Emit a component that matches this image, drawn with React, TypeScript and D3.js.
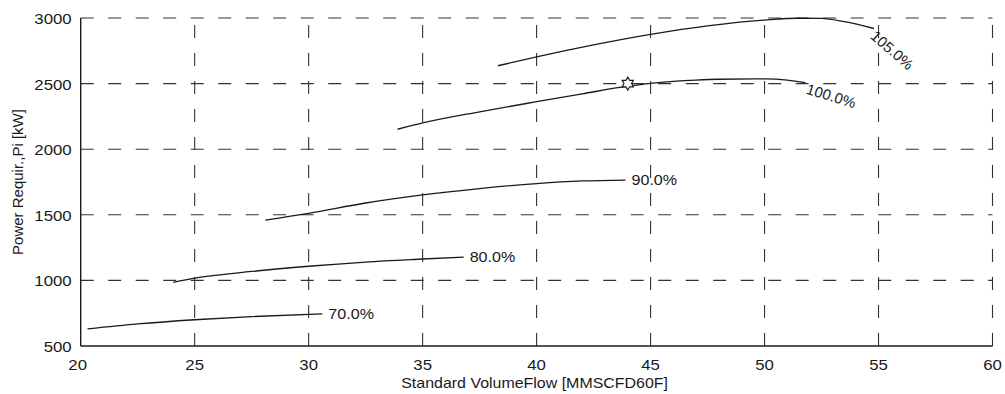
import React from "react";
import * as d3 from "d3";

const W = 1005;
const H = 394;
const M = { left: 80.7, right: 12.5, top: 18, bottom: 48 };

const xTicks = [20, 25, 30, 35, 40, 45, 50, 55, 60];
const yTicks = [500, 1000, 1500, 2000, 2500, 3000];

const flow70 = [20.3, 22.5, 25, 27.5, 30.6];
const power70 = [630, 668, 700, 724, 745];
const flow80 = [24.06, 25, 27.5, 30, 32.5, 35, 36.8];
const power80 = [985, 1017, 1068, 1108, 1140, 1163, 1178];
const flow90 = [28.1, 30, 32.5, 35, 37.5, 40, 42, 43.9];
const power90 = [1460, 1511, 1590, 1652, 1700, 1738, 1758, 1765];
const flow100 = [33.9, 35, 37.5, 40, 42, 44, 45, 46, 47, 48, 50, 51, 51.8];
const power100 = [2152, 2200, 2285, 2362, 2422, 2480, 2502, 2517, 2527, 2533, 2536, 2527, 2507];
const flow105 = [38.3, 40, 42.5, 45, 47.5, 50, 51.5, 52.5, 53.5, 54.8];
const power105 = [2636, 2704, 2795, 2875, 2940, 2984, 2998, 2997, 2972, 2920];

const seriesLabels = ["70.0%", "80.0%", "90.0%", "100.0%", "105.0%"];
const labelAngles = [0, 0, 0, 17, 41];

const designFlow = [44];
const designPower = [2500];

const xTitle = "Standard VolumeFlow [MMSCFD60F]";
const yTitle = "Power Requir.,Pi [kW]";

const FONT = "'Liberation Sans', Arial, Helvetica, sans-serif";
const INK = "#1a1a1a";

function hexagram(cx: number, cy: number, R: number) {
  const r = R / Math.sqrt(3);
  const pts: string[] = [];
  for (let i = 0; i < 12; i++) {
    const a = -Math.PI / 2 + (i * Math.PI) / 6;
    const rad = i % 2 === 0 ? R : r;
    pts.push(`${cx + rad * Math.cos(a)},${cy + rad * Math.sin(a)}`);
  }
  return `M${pts.join("L")}Z`;
}

export default function App() {
  const x = d3.scaleLinear().domain([20, 60]).range([M.left, W - M.right]);
  const y = d3.scaleLinear().domain([500, 3000]).range([H - M.bottom, M.top]);

  const series = [
    [flow70, power70],
    [flow80, power80],
    [flow90, power90],
    [flow100, power100],
    [flow105, power105],
  ].map(([fx, py]) => fx.map((v, i) => [v, py[i]] as [number, number]));

  const line = d3
    .line<[number, number]>()
    .x((d) => x(d[0]))
    .y((d) => y(d[1]))
    .curve(d3.curveMonotoneX);

  const x0 = x(20);
  const x1 = x(60);
  const y0 = y(500);
  const y1 = y(3000);

  return (
    <div style={{ position: "absolute", left: 0, top: 0, background: "#fff" }}>
      <svg width={W} height={H} style={{ display: "block" }} fontFamily={FONT}>
        <rect x={0} y={0} width={W} height={H} fill="#fff" />
        {yTicks.slice(1).map((t) => (
          <line
            key={"hg" + t}
            x1={x0}
            x2={x1}
            y1={y(t)}
            y2={y(t)}
            stroke="#333"
            strokeWidth={1.1}
            strokeDasharray="13,14.5"
          />
        ))}
        {xTicks.slice(1).map((t) => (
          <line
            key={"vg" + t}
            x1={x(t)}
            x2={x(t)}
            y1={y0}
            y2={y1}
            stroke="#333"
            strokeWidth={1.1}
            strokeDasharray="13,15"
          />
        ))}
        <line x1={x0} x2={x0} y1={y1} y2={y0} stroke={INK} strokeWidth={1.4} />
        <line x1={x0} x2={x1} y1={y0} y2={y0} stroke={INK} strokeWidth={1.4} />

        {yTicks.map((t) => (
          <text
            key={"yt" + t}
            transform={`translate(${x0 - 9},${y(t) + 6}) scale(1.2,1)`}
            textAnchor="end"
            fontSize={14}
            fill={INK}
          >
            {t}
          </text>
        ))}
        {xTicks.map((t) => (
          <text
            key={"xt" + t}
            transform={`translate(${x(t) - (t === 20 ? 3 : 0)},${y0 + 24}) scale(1.2,1)`}
            textAnchor="middle"
            fontSize={14}
            fill={INK}
          >
            {t}
          </text>
        ))}

        <text
          transform={`translate(${(x0 + x1) / 2 - 2},${H - 6}) scale(1.14,1)`}
          textAnchor="middle"
          fontSize={14}
          fill={INK}
        >
          {xTitle}
        </text>
        <text
          transform={`translate(23,${(y0 + y1) / 2}) rotate(-90)`}
          textAnchor="middle"
          fontSize={15}
          fill={INK}
        >
          {yTitle}
        </text>

        {series.map((s, i) => (
          <path key={"c" + i} d={line(s) || ""} fill="none" stroke={INK} strokeWidth={1.3} />
        ))}

        {series.map((s, i) => {
          const last = s[s.length - 1];
          const px = x(last[0]);
          const py = y(last[1]);
          const ang = labelAngles[i];
          if (ang === 0) {
            return (
              <text
                key={"l" + i}
                transform={`translate(${px + 6},${py + 5}) scale(1.15,1)`}
                fontSize={14}
                fill={INK}
              >
                {seriesLabels[i]}
              </text>
            );
          }
          return (
            <text
              key={"l" + i}
              transform={`translate(${px + 2},${py}) rotate(${ang})`}
              x={1}
              y={11}
              fontSize={15}
              fill={INK}
            >
              {seriesLabels[i]}
            </text>
          );
        })}

        {designFlow.map((f, i) => (
          <path
            key={"m" + i}
            d={hexagram(x(f), y(designPower[i]), 6.5)}
            fill="#fff"
            stroke={INK}
            strokeWidth={1.1}
          />
        ))}
      </svg>
    </div>
  );
}
